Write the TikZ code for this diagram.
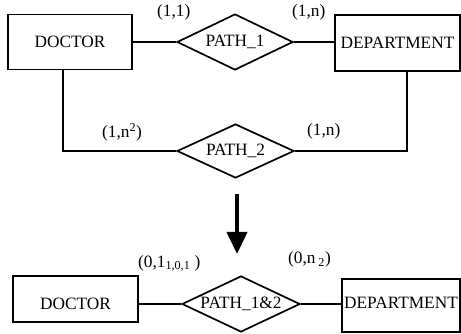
\documentclass[tikz,border=0pt]{standalone}
\usepackage{fontspec}
\setmainfont{Liberation Serif}
\usetikzlibrary{shapes.geometric,arrows.meta}
\begin{document}
\begin{tikzpicture}[x=1pt,y=-1pt,
  font=\fontsize{17.3}{20}\selectfont,
  ent/.style={draw, line width=1.7pt, rectangle, inner sep=0pt},
  rel/.style={draw, line width=1.7pt, diamond, inner sep=0pt, aspect=2},
  conn/.style={line width=1.7pt},
  card/.style={inner sep=0pt, anchor=base west}]
\useasboundingbox (0,0) rectangle (461,334);
% top diagram
\node[ent, minimum width=124pt, minimum height=55pt] (doc1) at (70,42) {DOCTOR};
\node[rel, minimum width=116pt, minimum height=56pt] (p1) at (235,42) {PATH\_1};
\node[ent, minimum width=125pt, minimum height=56pt] (dep1) at (397.5,43) {DEPARTMENT};
\draw[conn] (doc1.east) -- (p1.west);
\draw[conn] (p1.east) -- (p1.east -| dep1.west);
\node[rel, minimum width=117pt, minimum height=54pt] (p2) at (235.5,151) {PATH\_2};
\draw[conn] ([xshift=-7pt]doc1.south) |- (p2.west);
\draw[conn] (p2.east) -| ([xshift=9.5pt]dep1.south);
\node[card] (c1) at (157,17) {(1,1)};
\node[card] (c2) at (292,17) {(1,n)};
\node[card] (c3) at (102,138) {(1,n\textsuperscript{2})};
\node[card] (c4) at (307,136) {(1,n)};
% arrow
\coordinate (a1) at (237,194);
\coordinate (a2) at (237,254);
\draw[line width=4pt, -{Triangle[width=20pt,length=22pt]}] (a1) -- (a2);
% bottom diagram
\node[ent, minimum width=125pt, minimum height=46pt] (doc2) at (75.5,299) {\raisebox{-5pt}[\height][\depth]{DOCTOR}};
\node[rel, minimum width=118pt, minimum height=56pt] (p3) at (241,304) {PATH\_1\&2};
\node[ent, minimum width=118pt, minimum height=53pt] (dep2) at (401,305.5) {\raisebox{2.5pt}[\height][\depth]{DEPARTMENT}};
\draw[conn] (p3.west -| doc2.east) -- (p3.west);
\draw[conn] (p3.east) -- (p3.east -| dep2.west);
\node[card] (c5) at (138,267) {(0,1\textsubscript{1,0,1} )};
\node[card] (c6) at (288,264) {(0,n\,\textsubscript{2})};
\end{tikzpicture}
\end{document}
